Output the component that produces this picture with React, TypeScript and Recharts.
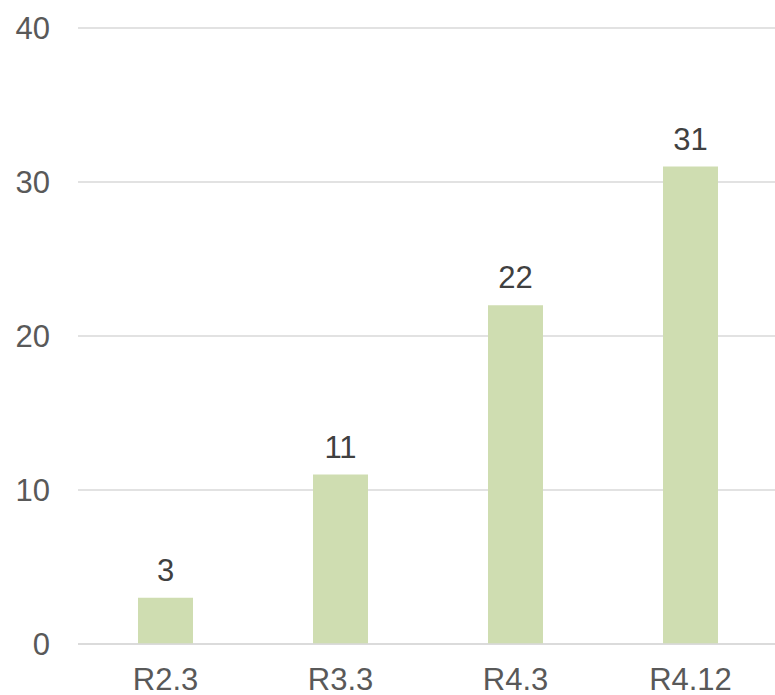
import { BarChart, Bar, XAxis, YAxis, CartesianGrid, LabelList } from "recharts";

const categories = ["R2.3", "R3.3", "R4.3", "R4.12"];
const counts = [3, 11, 22, 31];
const yTicks = [0, 10, 20, 30, 40];

const data = categories.map((name, i) => ({ name, value: counts[i] }));

const font = '"Liberation Sans", Arial, sans-serif';

export default function App() {
  return (
    <div style={{ width: 775, height: 695, overflow: "hidden", position: "relative" }}>
      <style>{"body{margin:0}"}</style>
      <BarChart
        width={778}
        height={695}
        data={data}
        margin={{ top: 28, right: 0, bottom: 0, left: 0 }}
      >
        <CartesianGrid vertical={false} stroke="#d9d9d9" strokeWidth={1.5} />
        <XAxis
          dataKey="name"
          height={51}
          tickLine={false}
          axisLine={{ stroke: "#d9d9d9", strokeWidth: 1.5 }}
          tickMargin={18}
          tick={{ fill: "#595959", fontSize: 31, fontFamily: font }}
          interval={0}
        />
        <YAxis
          width={78}
          domain={[0, 40]}
          ticks={yTicks}
          tickLine={false}
          axisLine={false}
          tickMargin={22}
          tick={{ fill: "#595959", fontSize: 31, fontFamily: font }}
        />
        <Bar dataKey="value" fill="#cfddb1" barSize={55} isAnimationActive={false}>
          <LabelList
            dataKey="value"
            position="top"
            offset={17}
            fill="#404040"
            fontSize={31}
            fontFamily={font}
          />
        </Bar>
      </BarChart>
    </div>
  );
}
